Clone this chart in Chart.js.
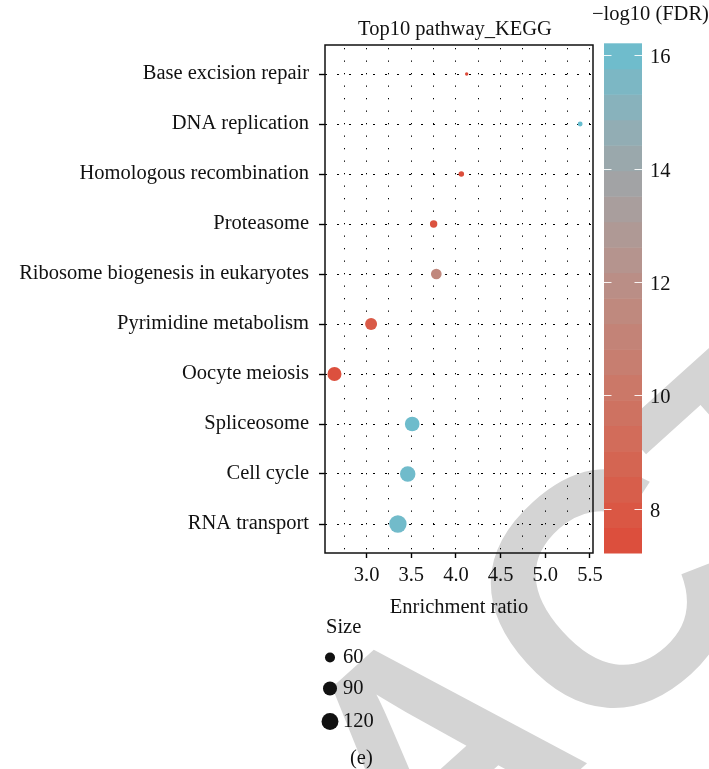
<!DOCTYPE html>
<html><head><meta charset="utf-8">
<script src="https://cdn.jsdelivr.net/npm/chart.js@4"></script>
<style>html,body{margin:0;padding:0;background:#fff}#c{display:block}</style>
</head><body>
<canvas id="c" width="709" height="769"></canvas>
<script>
// ---- data ----
const pathways = ['Base excision repair','DNA replication','Homologous recombination','Proteasome','Ribosome biogenesis in eukaryotes','Pyrimidine metabolism','Oocyte meiosis','Spliceosome','Cell cycle','RNA transport'];
const enrichmentRatio = [4.12, 5.39, 4.06, 3.75, 3.78, 3.05, 2.64, 3.51, 3.46, 3.35];
const fdrLog = [7.22, 16.21, 7.4, 7.6, 11.4, 8.1, 7.5, 16.0, 15.95, 15.9];
const geneSize = [41, 42, 43, 48, 64, 73, 90, 96, 104, 126];
const xTicks = [3.0, 3.5, 4.0, 4.5, 5.0, 5.5];
const colorTicks = [8, 10, 12, 14, 16];
const sizeLegend = [60, 90, 120];

const FONT = '"Liberation Serif", "Times New Roman", serif';
const FS = 20.5;

// ---- colour scale (Lab interpolation, like ggplot gradient) ----
const LOW = [221, 75, 57], HIGH = [103, 190, 208];
function s2l(c){c/=255;return c<=0.04045?c/12.92:Math.pow((c+0.055)/1.055,2.4);}
function l2s(c){c=c<=0.0031308?12.92*c:1.055*Math.pow(c,1/2.4)-0.055;return Math.round(Math.max(0,Math.min(1,c))*255);}
function rgb2lab(v){const r=s2l(v[0]),g=s2l(v[1]),b=s2l(v[2]);
  const x=(0.4124*r+0.3576*g+0.1805*b)/0.95047,y=0.2126*r+0.7152*g+0.0722*b,z=(0.0193*r+0.1192*g+0.9505*b)/1.08883;
  const f=t=>t>0.008856?Math.cbrt(t):7.787*t+16/116;const fx=f(x),fy=f(y),fz=f(z);
  return [116*fy-16,500*(fx-fy),200*(fy-fz)];}
function lab2rgb(L){const fy=(L[0]+16)/116,fx=fy+L[1]/500,fz=fy-L[2]/200;
  const fi=t=>t*t*t>0.008856?t*t*t:(t-16/116)/7.787;
  const x=fi(fx)*0.95047,y=fi(fy),z=fi(fz)*1.08883;
  return [l2s(3.2406*x-1.5372*y-0.4986*z),l2s(-0.9689*x+1.8758*y+0.0415*z),l2s(0.0557*x-0.2040*y+1.0570*z)];}
const LAB_LO = rgb2lab(LOW), LAB_HI = rgb2lab(HIGH);
const fMin = Math.min(...fdrLog), fMax = Math.max(...fdrLog);
function colorFor(v){const t=Math.max(0,Math.min(1,(v-fMin)/(fMax-fMin)));
  const c=lab2rgb([0,1,2].map(i=>LAB_LO[i]+(LAB_HI[i]-LAB_LO[i])*t));return `rgb(${c[0]},${c[1]},${c[2]})`;}

// ---- size scale (area-like, like ggplot scale_size) ----
const sMin = Math.min(...geneSize), sMax = Math.max(...geneSize);
const R_MIN = 1.7, R_MAX = 8.7;
function radiusFor(s){const t=Math.max(0,(s-sMin)/(sMax-sMin));return R_MIN+(R_MAX-R_MIN)*Math.sqrt(t);}

const isMajor = v => xTicks.some(t => Math.abs(t - v) < 1e-6);

// ---- plugins ----
const watermark = {
  id: 'watermark',
  beforeDraw(chart){
    const ctx = chart.ctx; ctx.save();
    ctx.fillStyle = '#fff'; ctx.fillRect(0,0,chart.width,chart.height);
    ctx.fillStyle = '#d4d4d4';
    const fs = 330; ctx.font = `bold ${fs}px "Liberation Sans", Arial, sans-serif`;
    ctx.translate(603, 590); ctx.rotate(-42*Math.PI/180);
    const pre = ctx.measureText('RETRA').width, wc = ctx.measureText('C').width;
    ctx.textBaseline = 'alphabetic';
    ctx.fillText('RETRACTED', -(pre + wc/2), fs*0.716/2);
    ctx.restore();
  }
};

const decor = {
  id: 'decor',
  afterDatasetsDraw(chart){
    const {ctx, chartArea: a} = chart; ctx.save();
    ctx.strokeStyle = '#111'; ctx.lineWidth = 1.5;
    ctx.strokeRect(a.left, a.top, a.right - a.left, a.bottom - a.top);
    ctx.restore();
  },
  afterDraw(chart){
    const {ctx, chartArea: a} = chart; ctx.save();
    ctx.fillStyle = '#111';
    ctx.font = `${FS}px ${FONT}`;
    ctx.textBaseline = 'alphabetic';
    // titles
    ctx.textAlign = 'center';
    ctx.fillText('Top10 pathway_KEGG', 455, 35);
    ctx.fillText('Enrichment ratio', (a.left + a.right)/2, 613);
    // colour bar
    const cbX = 604, cbW = 38, cbTop = 43.3, cbBot = 553;
    const nb = 20, span = fMax - fMin;
    const yOf = v => cbBot - (v - fMin)/span*(cbBot - cbTop);
    for (let i = 0; i < nb; i++){
      const v0 = fMin + span*i/nb, v1 = fMin + span*(i+1)/nb;
      ctx.fillStyle = colorFor((v0+v1)/2);
      const y0 = yOf(v1), y1 = yOf(v0);
      ctx.fillRect(cbX, y0, cbW, y1 - y0 + 0.5);
    }
    ctx.strokeStyle = 'rgba(255,255,255,0.9)'; ctx.lineWidth = 1.2;
    ctx.textAlign = 'left'; ctx.textBaseline = 'middle';
    colorTicks.forEach(v => {
      const y = Math.round(yOf(v)) + 0.5;
      ctx.beginPath(); ctx.moveTo(cbX, y); ctx.lineTo(cbX + 7.5, y);
      ctx.moveTo(cbX + cbW - 7.5, y); ctx.lineTo(cbX + cbW, y); ctx.stroke();
      ctx.fillStyle = '#111';
      ctx.fillText(String(v), 650, y + 2);
    });
    ctx.textBaseline = 'alphabetic';
    ctx.fillText('\u2212log10 (FDR)', 592, 20);
    // size legend
    ctx.fillText('Size', 326, 633);
    const ly = [657.5, 688.5, 721.5], lb = [663, 694, 727];
    sizeLegend.forEach((s, i) => {
      ctx.fillStyle = '#111';
      ctx.beginPath(); ctx.arc(330, ly[i], radiusFor(s), 0, Math.PI*2); ctx.fill();
      ctx.fillText(String(s), 343, lb[i]);
    });
    ctx.fillText('(e)', 350, 764);
    ctx.restore();
  }
};

new Chart(document.getElementById('c'), {
  type: 'scatter',
  data: {
    datasets: [{
      data: pathways.map((p, i) => ({x: enrichmentRatio[i], y: i + 1})),
      pointRadius: geneSize.map(radiusFor),
      pointHoverRadius: geneSize.map(radiusFor),
      backgroundColor: fdrLog.map(colorFor),
      borderWidth: 0,
      clip: false
    }]
  },
  options: {
    responsive: false,
    animation: false,
    devicePixelRatio: 1,
    layout: {padding: {left: 0, top: 45, right: 116, bottom: 176}},
    plugins: {legend: {display: false}, tooltip: {enabled: false}},
    scales: {
      x: {
        type: 'linear', min: 2.534, max: 5.534,
        afterBuildTicks(scale){
          const v = [];
          xTicks.forEach(t => { v.push(t - 0.25); v.push(t); });
          scale.ticks = v.map(value => ({value}));
        },
        afterFit(scale){ scale.height = 40; },
        ticks: {
          autoSkip: false, maxRotation: 0, padding: 5,
          color: '#111', font: {family: FONT, size: FS},
          callback: v => isMajor(v) ? Number(v).toFixed(1) : ''
        },
        grid: {
          color: '#000', lineWidth: 1,
          tickLength: 5, tickWidth: 1.4,
          tickColor: c => (c.tick && isMajor(c.tick.value)) ? '#000' : 'rgba(0,0,0,0)'
        },
        border: {display: false, dash: [1.3, 11.2], dashOffset: -3}
      },
      y: {
        type: 'linear', min: 0.42, max: 10.58, reverse: true,
        afterBuildTicks(scale){ scale.ticks = pathways.map((p, i) => ({value: i + 1})); },
        afterFit(scale){ scale.width = 325; },
        ticks: {
          autoSkip: false, padding: 10,
          color: '#111', font: {family: FONT, size: FS},
          callback: v => pathways[Math.round(v) - 1] || ''
        },
        grid: {color: '#000', lineWidth: 1, tickLength: 6, tickWidth: 1.4, tickColor: '#000'},
        border: {display: false, dash: [2, 10]}
      }
    }
  },
  plugins: [watermark, decor]
});
</script>
</body></html>
